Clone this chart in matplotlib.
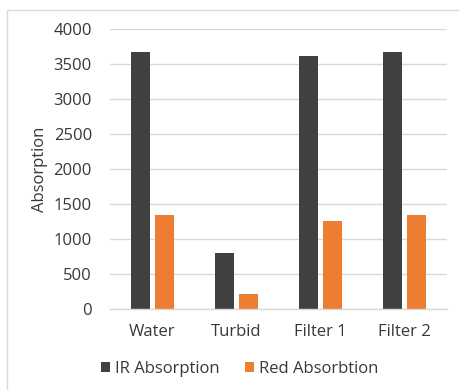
import matplotlib
matplotlib.use("Agg")
import matplotlib.pyplot as plt
from matplotlib.patches import Rectangle
import numpy as np

plt.rcParams['font.family'] = ['Open Sans', 'DejaVu Sans']

categories = ["Water", "Turbid", "Filter 1", "Filter 2"]
ir_values = [3676, 804, 3614, 3676]
red_values = [1343, 214, 1262, 1338]
series_names = ["IR Absorption", "Red Absorbtion"]
y_ticks = [0, 500, 1000, 1500, 2000, 2500, 3000, 3500, 4000]

ir_color = "#404040"
red_color = "#ED7D31"
grid_color = "#D9D9D9"
text_color = "#383838"
fs = 12

W, H = 459, 390
fig = plt.figure(figsize=(W / 100, H / 100), dpi=100)

# outer chart border
fig.patches.append(Rectangle((7 / W, -0.05), 1.2, 1 - 10 / H + 0.05,
                             transform=fig.transFigure, fill=False,
                             edgecolor="#D9D9D9", linewidth=1.0))

ax = fig.add_axes([110 / W, 1 - 309 / H, (446.7 - 110) / W, (309 - 29) / H])

x = np.arange(len(categories))
bw = 0.226
off = 0.143
ax.bar(x - off, ir_values, bw, color=ir_color, label=series_names[0], zorder=3)
ax.bar(x + off, red_values, bw, color=red_color, label=series_names[1], zorder=3)

ax.set_xlim(-0.5, len(categories) - 0.5)
ax.set_ylim(0, 4000)
ax.set_yticks(y_ticks)
ax.set_yticklabels([str(v) for v in y_ticks])
ax.set_xticks(x)
ax.set_xticklabels(categories)
ax.tick_params(axis='both', length=0, labelsize=fs, colors=text_color)
ax.tick_params(axis='y', pad=13)
ax.tick_params(axis='x', pad=11)

ax.yaxis.grid(True, color=grid_color, linewidth=1.0, zorder=0)
for s in ["top", "right", "left"]:
    ax.spines[s].set_visible(False)
ax.spines["bottom"].set_color(grid_color)
ax.spines["bottom"].set_linewidth(1.0)
ax.spines["bottom"].set_zorder(4)

ax.set_ylabel("Absorption", fontsize=fs, color=text_color)
ax.yaxis.set_label_coords(-(110 - 40) / (446.7 - 110), 0.5)
ax.yaxis.label.set_verticalalignment("center")

leg = fig.legend(loc="center", bbox_to_anchor=(240 / W, 1 - 369 / H),
                 ncol=2, frameon=False, fontsize=fs,
                 handlelength=0.55, handleheight=0.55, handletextpad=0.3,
                 columnspacing=1.5)
for t in leg.get_texts():
    t.set_color(text_color)

fig.savefig("out.png", dpi=100)
